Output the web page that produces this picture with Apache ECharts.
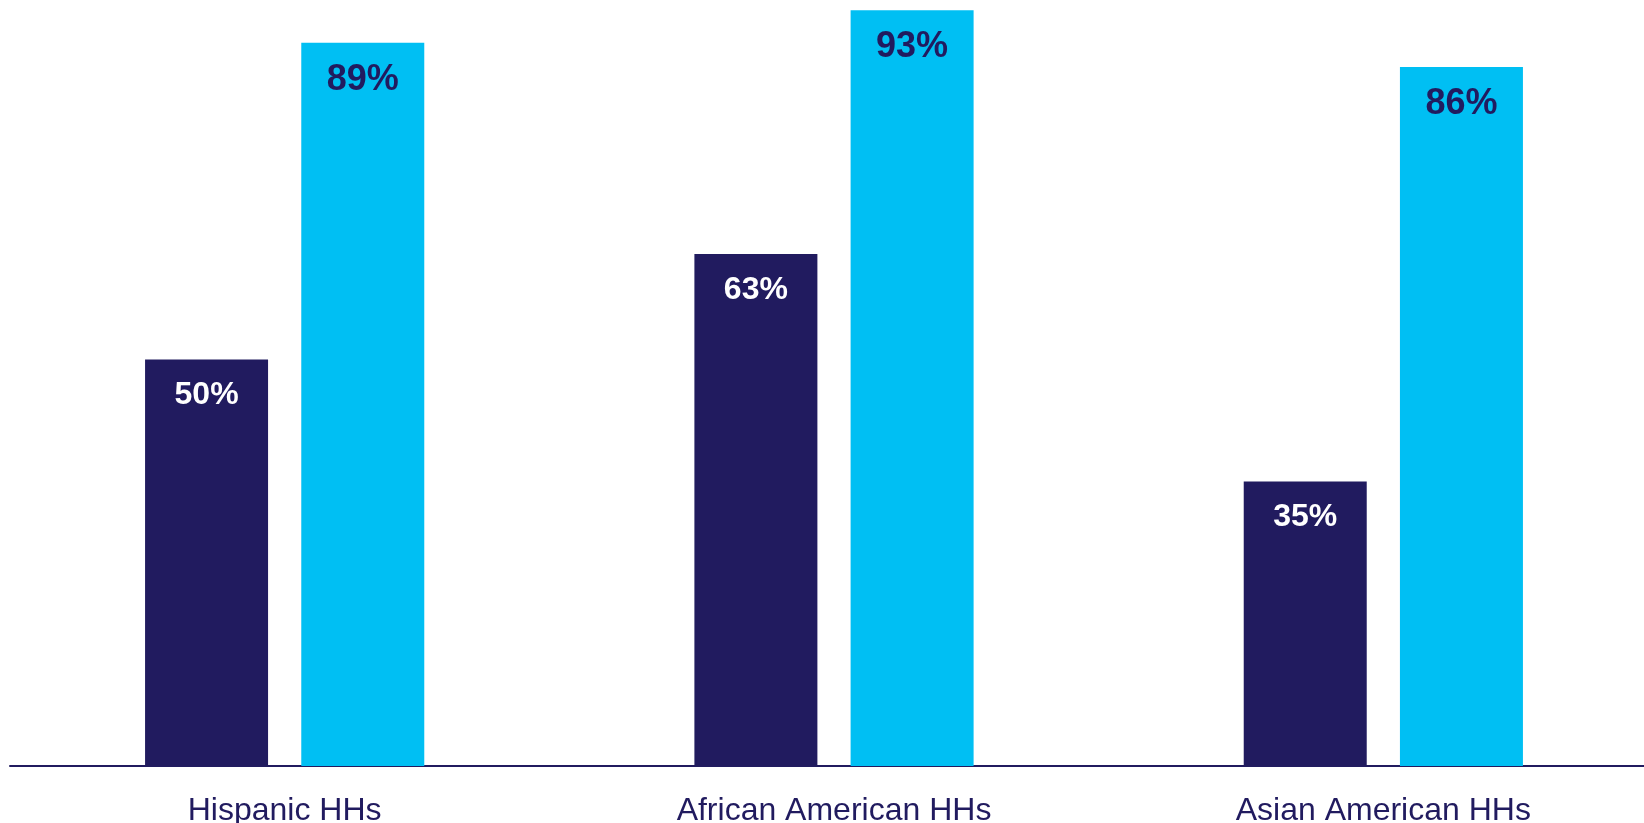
<!DOCTYPE html>
<html>
<head>
<meta charset="utf-8">
<script src="https://cdn.jsdelivr.net/npm/echarts@6/dist/echarts.min.js"></script>
<style>
html,body{margin:0;padding:0;background:#fff;overflow:hidden;}
#chart{width:1644px;height:823px;}
</style>
</head>
<body>
<div id="chart"></div>
<script>
const categories = ['Hispanic HHs', 'African American HHs', 'Asian American HHs'];
const seriesA = [50, 63, 35];
const seriesB = [89, 93, 86];

const navy = '#211B5F';
const cyan = '#00BFF3';
const font = '"Liberation Sans", Arial, sans-serif';

const chart = echarts.init(document.getElementById('chart'));
chart.setOption({
  animation: false,
  backgroundColor: '#ffffff',
  grid: { left: 10, top: 2, width: 1648, bottom: 57, containLabel: false, outerBoundsMode: 'none' },
  xAxis: {
    type: 'category',
    data: categories,
    axisLine: { show: true, lineStyle: { color: navy, width: 2 } },
    axisTick: { show: false },
    axisLabel: { color: navy, fontSize: 32, fontFamily: font, margin: 29, interval: 0 },
    splitLine: { show: false }
  },
  yAxis: {
    type: 'value', min: 0, max: 94,
    show: false,
    splitLine: { show: false }
  },
  series: [
    {
      type: 'bar', data: seriesA, barWidth: 123, barGap: '27%',
      itemStyle: { color: navy },
      label: { show: true, position: 'insideTop', distance: 20, formatter: '{c}%',
               color: '#ffffff', fontSize: 32, fontWeight: 'bold', fontFamily: font }
    },
    {
      type: 'bar', data: seriesB, barWidth: 123, barGap: '27%',
      itemStyle: { color: cyan },
      label: { show: true, position: 'insideTop', distance: 19, formatter: '{c}%',
               color: navy, fontSize: 36, fontWeight: 'bold', fontFamily: font }
    }
  ]
});
</script>
</body>
</html>
